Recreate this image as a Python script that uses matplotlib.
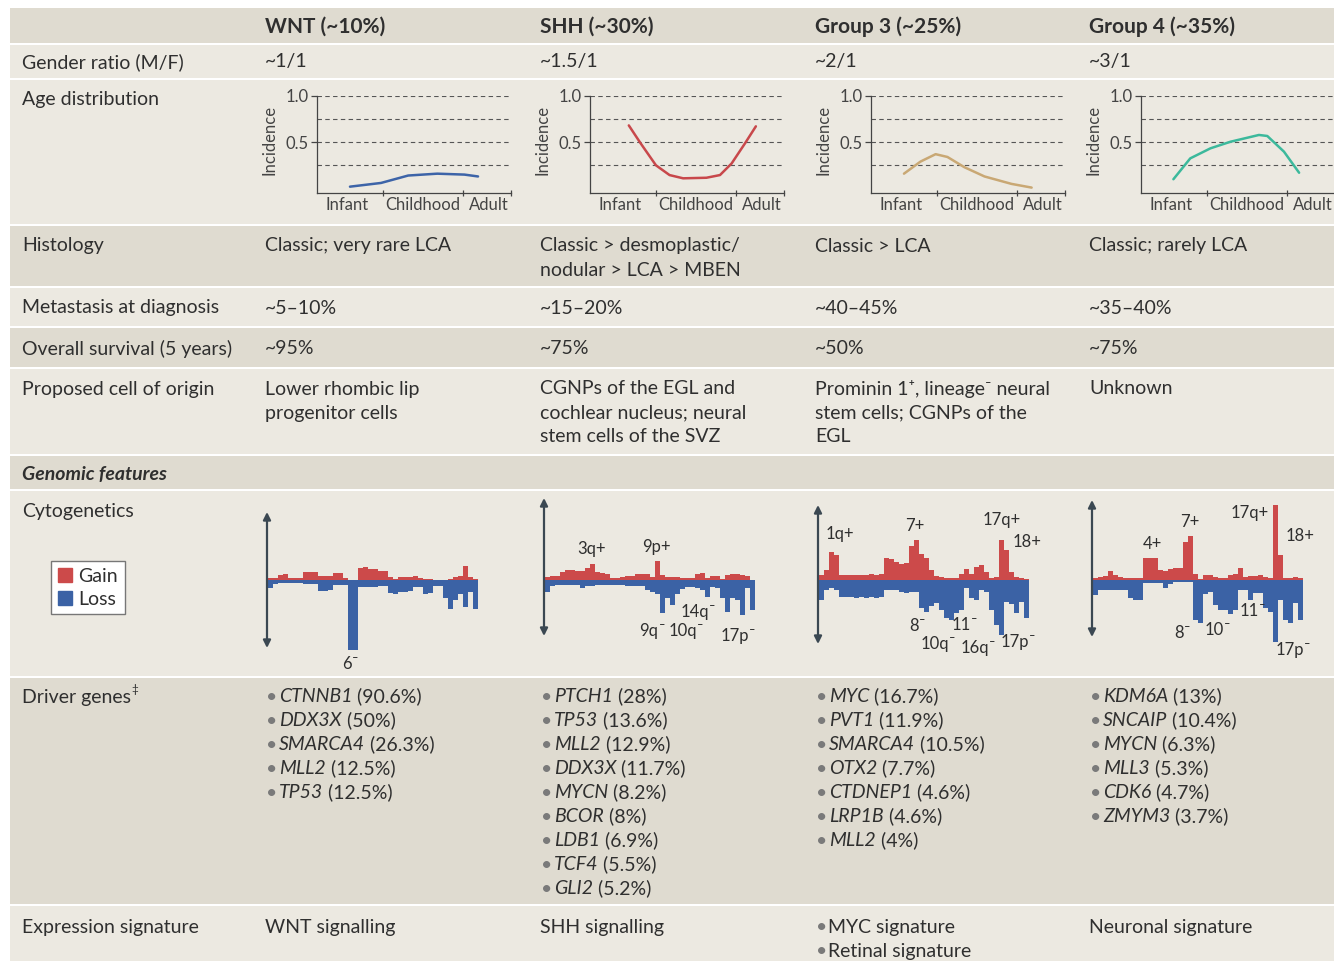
import numpy as np
import matplotlib
matplotlib.use("Agg")
import matplotlib.pyplot as plt  # noqa: E402
from matplotlib.patches import Patch, Rectangle  # noqa: E402

W, H = 1334, 961
plt.rcParams["font.family"] = ["Lato", "DejaVu Sans"]

TXT = "#2f2f2f"
DARK = "#dfdbd0"
LIGHT = "#ece9e1"
GAIN = "#cc4a4a"
LOSS = "#3b62a5"
FS = 14

# ---- table content ----
groups = ["WNT (~10%)", "SHH (~30%)", "Group 3 (~25%)", "Group 4 (~35%)"]
gender = ["~1/1", "~1.5/1", "~2/1", "~3/1"]
histology = [["Classic; very rare LCA"],
             ["Classic > desmoplastic/", "nodular > LCA > MBEN"],
             ["Classic > LCA"],
             ["Classic; rarely LCA"]]
metastasis = ["~5–10%", "~15–20%", "~40–45%", "~35–40%"]
survival = ["~95%", "~75%", "~50%", "~75%"]
origin = [["Lower rhombic lip", "progenitor cells"],
          ["CGNPs of the EGL and", "cochlear nucleus; neural", "stem cells of the SVZ"],
          ["Prominin 1⁺, lineage⁻ neural", "stem cells; CGNPs of the", "EGL"],
          ["Unknown"]]
expression = [["WNT signalling"], ["SHH signalling"],
              ["MYC signature", "Retinal signature"], ["Neuronal signature"]]
expression_bullets = [False, False, True, False]

wnt_genes = ["CTNNB1", "DDX3X", "SMARCA4", "MLL2", "TP53"]
wnt_pct = [90.6, 50, 26.3, 12.5, 12.5]
shh_genes = ["PTCH1", "TP53", "MLL2", "DDX3X", "MYCN", "BCOR", "LDB1", "TCF4", "GLI2"]
shh_pct = [28, 13.6, 12.9, 11.7, 8.2, 8, 6.9, 5.5, 5.2]
g3_genes = ["MYC", "PVT1", "SMARCA4", "OTX2", "CTDNEP1", "LRP1B", "MLL2"]
g3_pct = [16.7, 11.9, 10.5, 7.7, 4.6, 4.6, 4]
g4_genes = ["KDM6A", "SNCAIP", "MYCN", "MLL3", "CDK6", "ZMYM3"]
g4_pct = [13, 10.4, 6.3, 5.3, 4.7, 3.7]

# ---- age distribution curves (x: infant..adult as 0..1, y: incidence) ----
wnt_age_x = [0.17, 0.33, 0.47, 0.62, 0.76, 0.83]
wnt_age_y = [0.02, 0.06, 0.14, 0.16, 0.15, 0.13]
shh_age_x = [0.20, 0.26, 0.34, 0.41, 0.48, 0.60, 0.67, 0.73, 0.80, 0.855]
shh_age_y = [0.68, 0.49, 0.25, 0.145, 0.11, 0.116, 0.145, 0.27, 0.49, 0.67]
g3_age_x = [0.17, 0.255, 0.333, 0.394, 0.481, 0.585, 0.724, 0.828]
g3_age_y = [0.16, 0.29, 0.37, 0.34, 0.23, 0.13, 0.05, 0.01]
g4_age_x = [0.167, 0.254, 0.358, 0.461, 0.608, 0.651, 0.737, 0.815]
g4_age_y = [0.10, 0.325, 0.433, 0.504, 0.577, 0.566, 0.397, 0.17]
age_colors = ["#3d64a8", "#c8484b", "#c9a874", "#3cb99c"]

# ---- cytogenetic gain / loss frequency along the genome (42 bins) ----
wnt_gain = [2, 2, 5, 6, 2, 2, 2, 8, 8, 8, 4, 4, 4, 7, 7, 2, 0, 0, 12, 13, 11,
            11, 9, 9, 3, 1, 3, 3, 3, 4, 2, 1, 1, 0, 0, 0, 1, 3, 4, 14, 3, 1]
wnt_loss = [8, 4, 3, 3, 3, 3, 3, 4, 4, 4, 11, 11, 10, 5, 5, 5, 70, 70, 7, 7, 7,
            7, 6, 6, 13, 14, 12, 12, 11, 7, 7, 14, 13, 6, 6, 18, 29, 20, 14, 27, 12, 29]
shh_gain = [3, 4, 4, 8, 10, 10, 9, 9, 12, 16, 8, 7, 6, 2, 2, 3, 4, 4, 6, 6, 6,
            3, 19, 5, 3, 3, 3, 2, 2, 2, 6, 7, 2, 4, 4, 1, 5, 6, 6, 5, 4, 0]
shh_loss = [12, 6, 5, 5, 5, 5, 5, 8, 6, 6, 5, 5, 5, 5, 5, 5, 6, 6, 6, 6, 10,
            12, 14, 33, 18, 25, 14, 9, 7, 7, 8, 10, 17, 7, 8, 18, 32, 18, 20, 35, 8, 30]
g3_gain = [5, 10, 28, 25, 5, 5, 5, 5, 5, 5, 6, 5, 6, 22, 21, 18, 16, 17, 34, 40, 26,
           22, 10, 4, 3, 2, 2, 2, 6, 11, 6, 13, 15, 8, 2, 3, 40, 30, 8, 3, 2, 1]
g3_loss = [20, 10, 8, 10, 17, 17, 17, 18, 17, 18, 17, 18, 17, 10, 10, 10, 12, 13, 12, 12, 28,
           32, 26, 23, 30, 38, 40, 33, 30, 8, 18, 20, 10, 12, 30, 45, 55, 22, 24, 33, 22, 38]
g4_gain = [2, 3, 4, 9, 5, 3, 2, 2, 2, 2, 22, 22, 22, 10, 9, 11, 12, 12, 38, 44, 6,
           1, 5, 5, 3, 2, 2, 5, 6, 12, 3, 4, 4, 5, 3, 2, 75, 25, 2, 2, 3, 2]
g4_loss = [15, 10, 10, 10, 10, 10, 10, 18, 20, 20, 3, 3, 3, 3, 8, 4, 2, 2, 2, 2, 40,
           43, 14, 12, 25, 30, 30, 34, 30, 10, 10, 20, 13, 13, 28, 32, 62, 20, 40, 43, 23, 40]

cyto_labels = [
    [("6⁻", 83, -84)],
    [("3q+", 48, 31), ("9p+", 112, 33), ("14q⁻", 154, -32), ("9q⁻", 108, -51),
     ("10q⁻", 142, -51), ("17p⁻", 194, -56)],
    [("1q+", 22, 46), ("7+", 97, 54), ("17q+", 184, 60), ("18+", 209, 38),
     ("8⁻", 99, -46), ("11⁻", 146, -45), ("10q⁻", 120, -64), ("16q⁻", 160, -68),
     ("17p⁻", 200, -62)],
    [("4+", 60, 36), ("7+", 98, 58), ("17q+", 158, 67), ("18+", 208, 44),
     ("8⁻", 90, -53), ("10⁻", 125, -50), ("11⁻", 160, -31), ("17p⁻", 201, -70)],
]

col_x = [265, 540, 815, 1089]

fig = plt.figure(figsize=(W / 100, H / 100), dpi=100)
fig.patch.set_facecolor("white")
bg = fig.add_axes([0, 0, 1, 1])
bg.set_xlim(0, W)
bg.set_ylim(H, 0)
bg.axis("off")

row_boxes = [(8, 43, DARK), (45, 78, LIGHT), (80, 224, LIGHT), (226, 286, DARK),
             (288, 326, LIGHT), (328, 367, DARK), (369, 454, LIGHT), (456, 489, DARK),
             (491, 676, LIGHT), (678, 904, DARK), (906, 961, LIGHT)]
for y0, y1, c in row_boxes:
    bg.add_patch(Rectangle((10, y0), W - 10, y1 - y0, color=c, lw=0))


def put(x, y, s, **kw):
    kw.setdefault("fontsize", FS)
    kw.setdefault("color", TXT)
    return bg.text(x, y + 1, s, ha="left", va="center", **kw)


def put_lines(x, y, lines, step=24, **kw):
    for i, s in enumerate(lines):
        put(x, y + i * step, s, **kw)


# header
for x, g in zip(col_x, groups):
    put(x, 26, g, fontweight="bold", fontsize=15)

labels = [("Gender ratio (M/F)", 61), ("Age distribution", 98), ("Histology", 245),
          ("Metastasis at diagnosis", 307), ("Overall survival (5 years)", 348),
          ("Proposed cell of origin", 388), ("Cytogenetics", 511),
          ("Expression signature", 926)]
for s, y in labels:
    put(22, y, s)
put(22, 473, "Genomic features", fontweight="bold", fontstyle="italic")
t = put(22, 696, "Driver genes")
bg.annotate("‡", xy=(1, 0.62), xycoords=t, ha="left", va="bottom",
            fontsize=8.5, color=TXT)

for i, x in enumerate(col_x):
    put(x, 61, gender[i])
    put_lines(x, 245, histology[i])
    put(x, 307, metastasis[i])
    put(x, 348, survival[i])
    put_lines(x, 388, origin[i])
    for j, s in enumerate(expression[i]):
        y = 926 + j * 24
        if expression_bullets[i]:
            put(x + 1, y, "•", color="#7a7a7a")
            put(x + 13, y, s)
        else:
            put(x, y, s)

for x, genes, pct in zip(col_x, [wnt_genes, shh_genes, g3_genes, g4_genes],
                         [wnt_pct, shh_pct, g3_pct, g4_pct]):
    for j, (g, p) in enumerate(zip(genes, pct)):
        y = 696 + j * 24
        put(x + 1, y, "•", color="#7a7a7a")
        tg = put(x + 14, y, g, fontstyle="italic")
        bg.annotate(f" ({p:g}%)", xy=(1, 0), xycoords=tg, ha="left", va="bottom",
                    fontsize=FS, color=TXT)


def px_axes(x0, y0, x1, y1):
    return fig.add_axes([x0 / W, 1 - y1 / H, (x1 - x0) / W, (y1 - y0) / H])


# age distribution panels
age_left = [317, 590, 871, 1141]
age_sets = [(wnt_age_x, wnt_age_y), (shh_age_x, shh_age_y),
            (g3_age_x, g3_age_y), (g4_age_x, g4_age_y)]
for x0, (ax_x, ax_y), col in zip(age_left, age_sets, age_colors):
    ax = px_axes(x0, 95.7, x0 + 194, 192.7)
    ax.patch.set_alpha(0)
    ax.set_xlim(0, 1)
    ax.set_ylim(-0.045, 1.0)
    for s in ("top", "right"):
        ax.spines[s].set_visible(False)
    for s in ("left", "bottom"):
        ax.spines[s].set_color("#444444")
        ax.spines[s].set_linewidth(0.9)
    for gy in (0.25, 0.5, 0.75, 1.0):
        ax.axhline(gy, ls=(0, (4, 3)), color="#555555", lw=0.8, zorder=1)
    ax.plot(ax_x, ax_y, color=col, lw=1.8, solid_capstyle="round", zorder=3)
    ax.set_yticks([0.5, 1.0])
    ax.set_yticklabels(["0.5", "1.0"], fontsize=12, color="#444444")
    ax.tick_params(axis="y", length=4, width=0.9, color="#444444", pad=2)
    ax.set_xticks([0.34, 0.75, 1.0])
    ax.set_xticklabels([])
    ax.tick_params(axis="x", which="major", direction="inout", length=5,
                   width=0.9, color="#444444")
    ax.set_xticks([0.155, 0.545, 0.885], minor=True)
    ax.set_xticklabels(["Infant", "Childhood", "Adult"], minor=True,
                       fontsize=12, color="#444444")
    ax.tick_params(axis="x", which="minor", length=0, pad=3)
    ax.text(-0.245, 0.54, "Incidence", rotation=90, transform=ax.transAxes,
            ha="center", va="center", fontsize=12, color="#444444")

# cytogenetics panels
arrow_x = [267, 544, 818, 1092]
arrow_span = [(68, -68), (82, -56), (75, -64), (80, -57)]
cyto_sets = [(wnt_gain, wnt_loss), (shh_gain, shh_loss),
             (g3_gain, g3_loss), (g4_gain, g4_loss)]
for ax0, (top, bot), (gain, loss), labs in zip(arrow_x, arrow_span, cyto_sets, cyto_labels):
    ax = px_axes(ax0 - 10, 480, ax0 + 230, 680)
    ax.set_xlim(-10, 230)
    ax.set_ylim(-100, 100)
    ax.axis("off")
    pos = 1 + np.arange(len(gain)) * 5
    ax.bar(pos, gain, width=5, align="edge", color=GAIN, lw=0)
    ax.bar(pos, -np.array(loss), width=5, align="edge", color=LOSS, lw=0)
    ax.annotate("", xy=(0, top), xytext=(0, bot),
                arrowprops=dict(arrowstyle="<|-|>", color="#3b4852", lw=1.6,
                                mutation_scale=11, shrinkA=0, shrinkB=0))
    for s, lx, ly in labs:
        if s.endswith("⁻"):
            # loss labels: raised minus after the arm name
            base = ax.text(lx - 3, ly, s[:-1], ha="center", va="center",
                           fontsize=12, color=TXT)
            ax.annotate("⁻", xy=(1, 1), xycoords=base, ha="left", va="top",
                        fontsize=14, color=TXT)
        else:
            ax.text(lx, ly, s, ha="center", va="center", fontsize=12, color=TXT)

leg = bg.legend(handles=[Patch(color=GAIN, label="Gain"), Patch(color=LOSS, label="Loss")],
                loc="upper left", bbox_to_anchor=(51, 561), bbox_transform=bg.transData,
                borderaxespad=0, fontsize=FS, handlelength=0.75, handleheight=0.75,
                handletextpad=0.3, borderpad=0.35, labelspacing=0.3,
                fancybox=False, framealpha=1, edgecolor="#777777")
leg.get_frame().set_linewidth(1.0)
for txt in leg.get_texts():
    txt.set_color(TXT)

fig.savefig("out.png", dpi=100, facecolor="white")
